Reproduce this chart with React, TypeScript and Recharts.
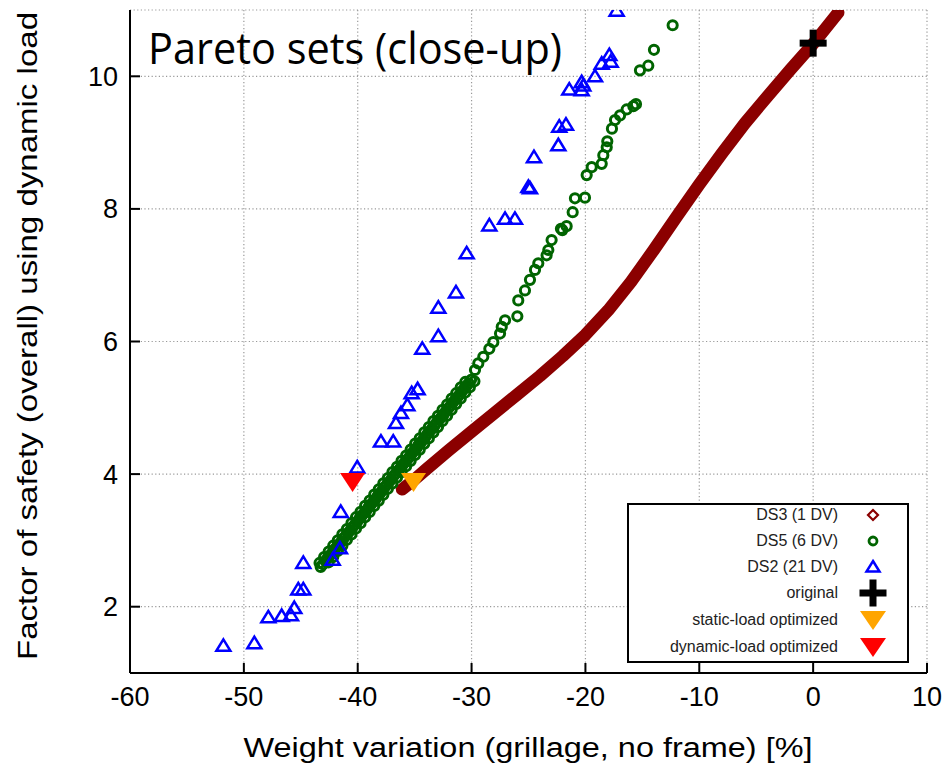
import { ScatterChart, Scatter, XAxis, YAxis, CartesianGrid, Legend } from "recharts"

const xTicks = [-60, -50, -40, -30, -20, -10, 0, 10]
const yTicks = [2, 4, 6, 8, 10]

// DS3 (1 DV) - dense front, read along its centre
const ds3Points = [
  [-36.1, 3.77], [-35, 3.92], [-34, 4.07], [-32, 4.36], [-30, 4.64], [-28, 4.92],
  [-26, 5.2], [-24, 5.48], [-22, 5.78], [-20, 6.1], [-18, 6.47], [-16, 6.9],
  [-14, 7.38], [-12, 7.88], [-10, 8.37], [-8, 8.84], [-6, 9.29], [-4, 9.7],
  [-2, 10.1], [0, 10.49], [2.2, 10.96],
]

// DS5 (6 DV): the packed band first, then the sparse upper part
const ds5Points = [
  [-43.25, 2.6], [-43.05, 2.64], [-42.85, 2.69], [-42.65, 2.73], [-42.45, 2.77],
  [-42.25, 2.81], [-42.05, 2.86], [-41.85, 2.9], [-41.65, 2.94], [-41.45, 2.98],
  [-41.25, 3.03], [-41.05, 3.07], [-40.85, 3.11], [-40.65, 3.15], [-40.45, 3.2],
  [-40.25, 3.24], [-40.05, 3.28], [-39.85, 3.33], [-39.65, 3.37], [-39.45, 3.41],
  [-39.25, 3.45], [-39.05, 3.5], [-38.85, 3.54], [-38.65, 3.58], [-38.45, 3.62],
  [-38.25, 3.67], [-38.05, 3.71], [-37.85, 3.75], [-37.65, 3.8], [-37.45, 3.84],
  [-37.25, 3.88], [-37.05, 3.92], [-36.85, 3.97], [-36.65, 4.01], [-36.45, 4.05],
  [-36.25, 4.09], [-36.05, 4.14], [-35.85, 4.18], [-35.65, 4.22], [-35.45, 4.26],
  [-35.25, 4.31], [-35.05, 4.35], [-34.85, 4.39], [-34.65, 4.44], [-34.45, 4.48],
  [-34.25, 4.52], [-34.05, 4.56], [-33.85, 4.61], [-33.65, 4.65], [-33.45, 4.69],
  [-33.25, 4.73], [-33.05, 4.78], [-32.85, 4.82], [-32.65, 4.86], [-32.45, 4.9],
  [-32.25, 4.95], [-32.05, 4.99], [-31.85, 5.03], [-31.65, 5.08], [-31.45, 5.12],
  [-31.25, 5.16], [-31.05, 5.2], [-30.85, 5.25], [-30.65, 5.29], [-30.45, 5.33],
  [-30.25, 5.37], [-30.05, 5.42],
  [-43.35, 2.66], [-42.95, 2.75], [-42.55, 2.83], [-42.15, 2.92], [-41.75, 3.0],
  [-41.35, 3.09], [-40.95, 3.17], [-40.55, 3.26], [-40.15, 3.35], [-39.75, 3.43],
  [-39.35, 3.52], [-38.95, 3.6], [-38.55, 3.69], [-38.15, 3.77], [-37.75, 3.86],
  [-37.35, 3.94], [-36.95, 4.03], [-36.55, 4.11], [-36.15, 4.2], [-35.75, 4.28],
  [-35.35, 4.37], [-34.95, 4.46], [-34.55, 4.54], [-34.15, 4.63], [-33.75, 4.71],
  [-33.35, 4.8], [-32.95, 4.88], [-32.55, 4.97], [-32.15, 5.05], [-31.75, 5.14],
  [-31.35, 5.22], [-30.95, 5.31], [-30.55, 5.39],
  [-42.55, 2.67], [-42.15, 2.75], [-41.75, 2.84], [-41.35, 2.92], [-40.95, 3.01],
  [-40.55, 3.09], [-40.15, 3.18], [-39.75, 3.26], [-39.35, 3.35], [-38.95, 3.43],
  [-38.55, 3.52], [-38.15, 3.6], [-37.75, 3.69], [-37.35, 3.78], [-36.95, 3.86],
  [-36.55, 3.95], [-36.15, 4.03], [-35.75, 4.12], [-35.35, 4.2], [-34.95, 4.29],
  [-34.55, 4.37], [-34.15, 4.46], [-33.75, 4.54], [-33.35, 4.63], [-32.95, 4.71],
  [-32.55, 4.8], [-32.15, 4.88], [-31.75, 4.97], [-31.35, 5.06], [-30.95, 5.14],
  [-30.55, 5.23], [-30.15, 5.31], [-29.75, 5.4],
  [-29.7, 5.57], [-29.41, 5.67], [-28.97, 5.77], [-28.44, 5.89], [-28.09, 5.99],
  [-27.5, 6.12], [-27.35, 6.22], [-27.06, 6.32], [-25.98, 6.38], [-25.9, 6.62],
  [-25.31, 6.77], [-24.87, 6.93], [-24.43, 7.08], [-24.14, 7.18], [-23.41, 7.3],
  [-23.26, 7.38], [-22.97, 7.53], [-22.03, 7.68], [-22.15, 7.7], [-21.65, 7.74],
  [-21.12, 7.95], [-20.92, 8.16], [-20.04, 8.17], [-19.89, 8.51], [-19.45, 8.63],
  [-18.57, 8.68], [-18.43, 8.81], [-18.13, 8.93], [-18.08, 9.02], [-17.67, 9.21],
  [-17.4, 9.34], [-16.96, 9.41], [-16.38, 9.5], [-15.79, 9.55], [-15.56, 9.58],
  [-15.21, 10.09], [-14.48, 10.16], [-13.98, 10.4], [-12.34, 10.77],
]

// DS2 (21 DV)
const ds2Points = [
  [-51.8, 1.41], [-49.08, 1.45], [-47.85, 1.84], [-46.68, 1.86], [-45.86, 1.87],
  [-45.57, 1.98], [-45.22, 2.26], [-44.78, 2.26], [-44.78, 2.66], [-42.2, 2.71],
  [-41.56, 2.88], [-41.49, 3.43], [-40.04, 4.1], [-37.96, 4.49], [-36.88, 4.49],
  [-36.64, 4.77], [-36.2, 4.92], [-35.64, 5.04], [-35.26, 5.22], [-34.74, 5.28],
  [-34.33, 5.89], [-32.92, 6.08], [-32.92, 6.51], [-31.37, 6.74], [-30.43, 7.33],
  [-28.44, 7.75], [-27.06, 7.85], [-26.19, 7.85], [-25.01, 8.33], [-24.87, 8.31],
  [-24.52, 8.78], [-22.38, 8.96], [-22.3, 9.24], [-21.71, 9.27], [-21.42, 9.8],
  [-20.33, 9.79], [-20.19, 9.86], [-20.33, 9.91], [-19.16, 10.0], [-18.57, 10.19],
  [-17.78, 10.22], [-17.9, 10.32], [-17.26, 10.99],
]

const originalPoint = [[0, 10.5]]
const staticPoint = [[-35.1, 3.88]]
const dynamicPoint = [[-40.45, 3.88]]

const toData = (pts: number[][]) => pts.map(([x, y]) => ({ x, y }))

const DARKRED = "#8b0000"
const GREEN = "#006400"
const BLUE = "#0000ff"
const ORANGE = "#ffa500"
const RED = "#ff0000"
const SANS = "'Liberation Sans', Arial, sans-serif"

const OpenCircle = (p: any) => (
  <circle cx={p.cx} cy={p.cy} r={4.6} fill="none" stroke={GREEN} strokeWidth={3} />
)

const OpenTriangle = (p: any) => (
  <polygon
    points={`${p.cx},${p.cy - 6.5} ${p.cx + 7},${p.cy + 5} ${p.cx - 7},${p.cy + 5}`}
    fill="none"
    stroke={BLUE}
    strokeWidth={2.5}
  />
)

const downTriangle = (color: string) => (p: any) => (
  <polygon
    points={`${p.cx - 12.5},${p.cy - 9} ${p.cx + 12.5},${p.cy - 9} ${p.cx},${p.cy + 10}`}
    fill={color}
  />
)

const Plus = (p: any) => (
  <g fill="#000">
    <rect x={p.cx - 13.5} y={p.cy - 3.5} width={27} height={7} />
    <rect x={p.cx - 3.5} y={p.cy - 13.5} width={7} height={27} />
  </g>
)

const legendRows = [
  { label: "DS3 (1 DV)", icon: <polygon points="10,5 15,10 10,15 5,10" fill="none" stroke={DARKRED} strokeWidth={2.2} /> },
  { label: "DS5 (6 DV)", icon: <circle cx={10} cy={10} r={4} fill="none" stroke={GREEN} strokeWidth={2.8} /> },
  { label: "DS2 (21 DV)", icon: <polygon points="10,4 16.5,14.5 3.5,14.5" fill="none" stroke={BLUE} strokeWidth={2.5} /> },
  { label: "original", icon: <g><rect x={-3.5} y={6.5} width={27} height={7} /><rect x={6.5} y={-3.5} width={7} height={27} /></g> },
  { label: "static-load optimized", icon: <polygon points="-3,1 23,1 10,20" fill={ORANGE} /> },
  { label: "dynamic-load optimized", icon: <polygon points="-3,1 23,1 10,20" fill={RED} /> },
]

const rowCentres = [12, 38, 64, 90, 117, 144]

function LegendBox() {
  return (
    <div
      style={{
        position: "relative",
        width: 282,
        height: 160,
        boxSizing: "border-box",
        border: "2px solid #000",
        background: "#fff",
        fontFamily: SANS,
        fontSize: 16,
        color: "#222",
      }}
    >
      {legendRows.map((r, i) => (
        <div key={r.label}>
          <div
            style={{
              position: "absolute",
              right: 282 - 2 - 211,
              top: rowCentres[i] - 2 - 10,
              lineHeight: "20px",
              whiteSpace: "nowrap",
            }}
          >
            {r.label}
          </div>
          <svg
            width={20}
            height={20}
            overflow="visible"
            style={{ position: "absolute", left: 246 - 2 - 10, top: rowCentres[i] - 2 - 10 }}
          >
            {r.icon}
          </svg>
        </div>
      ))}
    </div>
  )
}

const tickFont = { fontSize: 27, fill: "#000", fontFamily: SANS }

export default function App() {
  return (
    <div style={{ position: "relative", width: 951, height: 771, marginLeft: -8, marginTop: -8, background: "#fff" }}>
      <ScatterChart width={951} height={771} margin={{ top: 10, right: 24, bottom: 38, left: 70 }}>
        <CartesianGrid stroke="#999" strokeDasharray="1.2 2.4" strokeWidth={1.2} />
        <XAxis
          type="number"
          dataKey="x"
          domain={[-60, 10]}
          ticks={xTicks}
          allowDataOverflow
          height={60}
          tick={tickFont}
          tickSize={-10}
          tickMargin={24}
          axisLine={{ stroke: "#000", strokeWidth: 2 }}
          tickLine={{ stroke: "#000", strokeWidth: 2 }}
          label={{
            content: () => (
              <text x={528} y={757} textAnchor="middle" fontSize={27} fontFamily={SANS} fill="#000" textLength={569} lengthAdjust="spacingAndGlyphs">
                Weight variation (grillage, no frame) [%]
              </text>
            ),
          }}
        />
        <XAxis
          xAxisId="top"
          orientation="top"
          type="number"
          dataKey="x"
          domain={[-60, 10]}
          ticks={xTicks}
          allowDataOverflow
          height={0}
          tick={false}
          tickSize={-10}
          axisLine={{ stroke: "#000", strokeWidth: 2 }}
          tickLine={{ stroke: "#000", strokeWidth: 2 }}
        />
        <YAxis
          type="number"
          dataKey="y"
          domain={[1, 11]}
          ticks={yTicks}
          allowDataOverflow
          width={60}
          tick={tickFont}
          tickSize={-10}
          tickMargin={22}
          axisLine={{ stroke: "#000", strokeWidth: 2 }}
          tickLine={{ stroke: "#000", strokeWidth: 2 }}
          label={{
            content: () => (
              <g>
                <text x={37} y={336} transform="rotate(-90 37 336)" textAnchor="middle" fontSize={27} fontFamily={SANS} fill="#000" textLength={648} lengthAdjust="spacingAndGlyphs">
                  Factor of safety (overall) using dynamic load
                </text>
                <text x={148} y={64} fontSize={43} fontFamily="'Open Sans', sans-serif" fill="#000" textLength={414} lengthAdjust="spacingAndGlyphs">
                  Pareto sets (close-up)
                </text>
              </g>
            ),
          }}
        />
        <YAxis
          yAxisId="right"
          orientation="right"
          type="number"
          dataKey="y"
          domain={[1, 11]}
          ticks={yTicks}
          allowDataOverflow
          width={0}
          tick={false}
          tickSize={-10}
          axisLine={{ stroke: "#000", strokeWidth: 2 }}
          tickLine={{ stroke: "#000", strokeWidth: 2 }}
        />
        <Scatter
          name="DS3 (1 DV)"
          data={toData(ds3Points)}
          fill={DARKRED}
          line={{ stroke: DARKRED, strokeWidth: 12.5, strokeLinecap: "round", strokeLinejoin: "round" }}
          lineType="joint"
          shape={() => <g />}
          isAnimationActive={false}
        />
        <Scatter name="DS5 (6 DV)" data={toData(ds5Points)} fill={GREEN} shape={OpenCircle} isAnimationActive={false} />
        <Scatter name="DS2 (21 DV)" data={toData(ds2Points)} fill={BLUE} shape={OpenTriangle} isAnimationActive={false} />
        <Scatter name="original" data={toData(originalPoint)} fill="#000" shape={Plus} isAnimationActive={false} />
        <Scatter name="static-load optimized" data={toData(staticPoint)} fill={ORANGE} shape={downTriangle(ORANGE)} isAnimationActive={false} />
        <Scatter name="dynamic-load optimized" data={toData(dynamicPoint)} fill={RED} shape={downTriangle(RED)} isAnimationActive={false} />
        <Legend
          layout="horizontal"
          verticalAlign="middle"
          align="center"
          content={() => <LegendBox />}
          wrapperStyle={{ left: 627, top: 503, width: 282, height: 160 }}
        />
      </ScatterChart>
    </div>
  )
}
